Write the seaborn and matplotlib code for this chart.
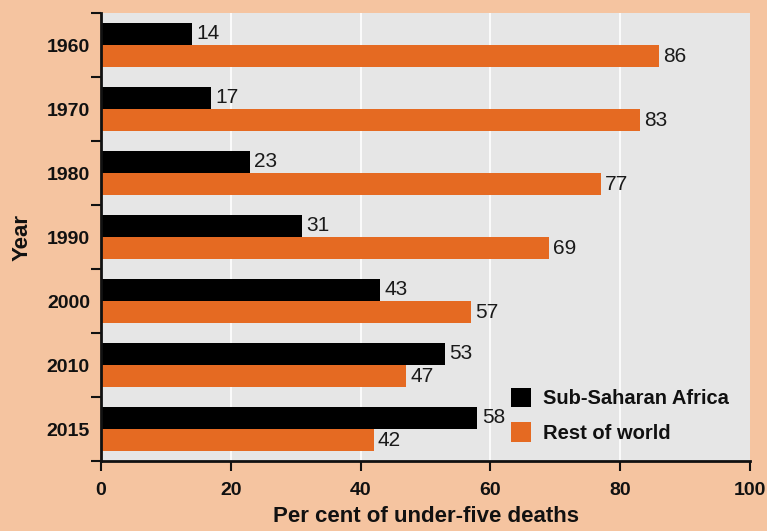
import matplotlib
matplotlib.use("Agg")
import matplotlib.pyplot as plt
import seaborn as sns
import pandas as pd
import numpy as np

years = ["1960", "1970", "1980", "1990", "2000", "2010", "2015"]
ssa = [14, 17, 23, 31, 43, 53, 58]
rest = [86, 83, 77, 69, 57, 47, 42]
series_names = ["Sub-Saharan Africa", "Rest of world"]
colors = ["#000000", "#E56A22"]

df = pd.DataFrame({
    "Year": years * 2,
    "value": ssa + rest,
    "series": [series_names[0]] * len(years) + [series_names[1]] * len(years),
})

sns.set_theme(style="white")
plt.rcParams['font.family'] = ['Liberation Sans', 'DejaVu Sans']

fig = plt.figure(figsize=(7.67, 5.31), dpi=100)
fig.patch.set_facecolor("#F5C4A0")
ax = fig.add_axes([0.1317, 0.1318, 0.8463, 0.8437])
ax.set_facecolor("#E6E6E6")

sns.barplot(data=df, y="Year", x="value", hue="series", orient="h",
            palette=colors, width=0.7, ax=ax, saturation=1, order=years,
            hue_order=series_names, linewidth=0, edgecolor="none")

for c in ax.containers:
    ax.bar_label(c, labels=[f"{int(v)}" for v in c.datavalues], padding=3,
                 fontsize=15, color="#1a1a1a")

ax.set_xlim(0, 100)
ax.set_ylim(len(years) - 0.5, -0.5)
ax.set_xticks([0, 20, 40, 60, 80, 100])
for x in [20, 40, 60, 80]:
    ax.axvline(x, color="white", lw=1.2, zorder=0)
ax.set_axisbelow(True)

for s in ["top", "right"]:
    ax.spines[s].set_visible(False)
for s in ["left", "bottom"]:
    ax.spines[s].set_color("#111111")
    ax.spines[s].set_linewidth(2)

ax.set_yticks(np.arange(len(years)))
ax.set_yticklabels(years)
ax.set_yticks(np.arange(-0.5, len(years), 1), minor=True)
ax.tick_params(axis="y", which="major", length=0, pad=8)
ax.tick_params(axis="y", which="minor", length=7, width=1.5, color="#111111", left=True)
ax.tick_params(axis="x", which="major", length=7, width=1.5, color="#111111", bottom=True, pad=8)

for lab in ax.get_xticklabels() + ax.get_yticklabels():
    lab.set_fontweight("bold")
    lab.set_fontsize(14)
    lab.set_color("#111111")

ax.set_xlabel("Per cent of under-five deaths", fontsize=16, fontweight="bold", color="#111111", labelpad=5)
ax.set_ylabel("Year", fontsize=16, fontweight="bold", color="#111111", labelpad=10)

leg = ax.legend(loc="lower right", bbox_to_anchor=(0.995, 0.0), frameon=False,
                handlelength=1.0, handleheight=1.1, labelspacing=0.7,
                handletextpad=0.6, prop={"weight": "bold", "size": 14.5})
for t in leg.get_texts():
    t.set_color("#111111")

fig.savefig("out.png", dpi=100, facecolor=fig.get_facecolor())
